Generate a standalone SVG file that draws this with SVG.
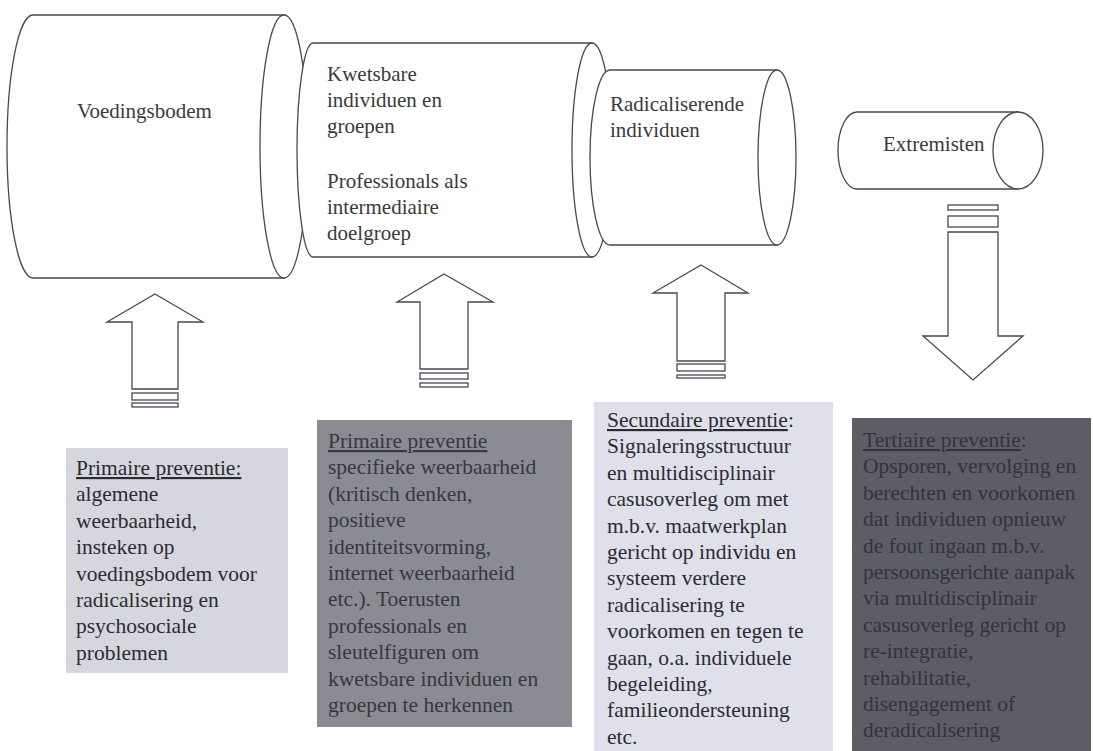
<svg xmlns="http://www.w3.org/2000/svg" width="1093" height="751" viewBox="0 0 1093 751">
<style>
.ln{fill:#fff;stroke:#4a4654;stroke-width:1.3}
.t{font-family:"Liberation Serif","DejaVu Serif",serif;font-size:21px;fill:#3a3a3a}
.b{font-family:"Liberation Serif","DejaVu Serif",serif;font-size:21.5px}
.u{text-decoration:underline}
</style>
<rect width="1093" height="751" fill="#fff"/>
<g id="cyl-voedingsbodem">
<path class="ln" d="M33,15 H284 V278 H33 A26,131.5 0 0 1 33,15 Z"/>
<ellipse class="ln" cx="284" cy="146.5" rx="24" ry="131.5"/>
<text class="t" x="77" y="118" font-family="Liberation Serif, serif">Voedingsbodem</text>
</g>
<g id="cyl-kwetsbare">
<path class="ln" d="M313,43 H592 V257 H313 A16,107 0 0 1 313,43 Z"/>
<ellipse class="ln" cx="592" cy="150" rx="20" ry="107"/>
<text class="t" font-family="Liberation Serif, serif"><tspan x="327" y="81">Kwetsbare</tspan><tspan x="327" y="107">individuen en</tspan><tspan x="327" y="133">groepen</tspan><tspan x="327" y="188">Professionals als</tspan><tspan x="327" y="214">intermediaire</tspan><tspan x="327" y="240">doelgroep</tspan></text>
</g>
<g id="cyl-radicaliserend">
<path class="ln" d="M610,70 H777 V245 H610 A20,87.5 0 0 1 610,70 Z"/>
<ellipse class="ln" cx="777" cy="157.5" rx="19" ry="87.5"/>
<text class="t" font-family="Liberation Serif, serif"><tspan x="610" y="111">Radicaliserende</tspan><tspan x="610" y="137">individuen</tspan></text>
</g>
<g id="cyl-extremisten">
<path class="ln" d="M857,112 H1018 V189 H857 A19,38.5 0 0 1 857,112 Z"/>
<ellipse class="ln" cx="1018" cy="150.5" rx="25" ry="38.5"/>
<text class="t" x="883" y="151" font-family="Liberation Serif, serif">Extremisten</text>
</g>
<g id="connectors">
<g id="arrow-1">
<path class="ln" d="M155,294 L203,322 H178 V389 H132 V322 H107 Z"/>
<rect class="ln" x="132" y="393" width="46" height="7"/>
<rect class="ln" x="132" y="403" width="46" height="4"/>
</g>
<g id="arrow-2">
<path class="ln" d="M444,274 L493,302 H468 V369 H420 V302 H397 Z"/>
<rect class="ln" x="420" y="373" width="48" height="6"/>
<rect class="ln" x="420" y="383" width="48" height="4"/>
</g>
<g id="arrow-3">
<path class="ln" d="M701,265 L748,293 H725 V361 H677 V293 H653 Z"/>
<rect class="ln" x="677" y="364" width="48" height="7"/>
<rect class="ln" x="677" y="375" width="48" height="3"/>
</g>
<g id="arrow-4">
<rect class="ln" x="948" y="205" width="50" height="5"/>
<rect class="ln" x="948" y="216" width="50" height="11"/>
<path class="ln" d="M948,232 H998 V336 H1023 L973,380 L923,336 H948 Z"/>
</g>
</g>
<g id="box-primair-algemeen">
<rect x="66" y="448" width="222" height="225" fill="#d6d6de"/>
<text class="b" fill="#2c2c30" font-family="Liberation Serif, serif"><tspan x="76" y="475" class="u">Primaire preventie:</tspan><tspan x="76" y="501.4">algemene</tspan><tspan x="76" y="527.8">weerbaarheid,</tspan><tspan x="76" y="554.2">insteken op</tspan><tspan x="76" y="580.6">voedingsbodem voor</tspan><tspan x="76" y="607">radicalisering en</tspan><tspan x="76" y="633.4">psychosociale</tspan><tspan x="76" y="659.8">problemen</tspan></text>
</g>
<g id="box-primair-specifiek">
<rect x="317" y="420" width="255" height="307" fill="#8b8b93"/>
<text class="b" fill="#38383e" font-family="Liberation Serif, serif"><tspan x="328" y="448" class="u">Primaire preventie</tspan><tspan x="328" y="474.4">specifieke weerbaarheid</tspan><tspan x="328" y="500.8">(kritisch denken,</tspan><tspan x="328" y="527.2">positieve</tspan><tspan x="328" y="553.6">identiteitsvorming,</tspan><tspan x="328" y="580">internet weerbaarheid</tspan><tspan x="328" y="606.4">etc.). Toerusten</tspan><tspan x="328" y="632.8">professionals en</tspan><tspan x="328" y="659.2">sleutelfiguren om</tspan><tspan x="328" y="685.6">kwetsbare individuen en</tspan><tspan x="328" y="712">groepen te herkennen</tspan></text>
</g>
<g id="box-secundair">
<rect x="594" y="402" width="239" height="349" fill="#e0e0ea"/>
<text class="b" fill="#2c2c30" font-family="Liberation Serif, serif"><tspan x="607" y="427"><tspan class="u">Secundaire preventie</tspan>:</tspan><tspan x="607" y="453.4">Signaleringsstructuur</tspan><tspan x="607" y="479.8">en multidisciplinair</tspan><tspan x="607" y="506.2">casusoverleg om met</tspan><tspan x="607" y="532.6">m.b.v. maatwerkplan</tspan><tspan x="607" y="559">gericht op individu en</tspan><tspan x="607" y="585.4">systeem verdere</tspan><tspan x="607" y="611.8">radicalisering te</tspan><tspan x="607" y="638.2">voorkomen en tegen te</tspan><tspan x="607" y="664.6">gaan, o.a. individuele</tspan><tspan x="607" y="691">begeleiding,</tspan><tspan x="607" y="717.4">familieondersteuning</tspan><tspan x="607" y="743.8">etc.</tspan></text>
</g>
<g id="box-tertiair">
<rect x="852" y="418" width="239" height="333" fill="#5d5d65"/>
<text class="b" fill="#34343a" font-family="Liberation Serif, serif"><tspan x="863" y="447"><tspan class="u">Tertiaire preventie</tspan>:</tspan><tspan x="863" y="473.4">Opsporen, vervolging en</tspan><tspan x="863" y="499.8">berechten en voorkomen</tspan><tspan x="863" y="526.2">dat individuen opnieuw</tspan><tspan x="863" y="552.6">de fout ingaan m.b.v.</tspan><tspan x="863" y="579">persoonsgerichte aanpak</tspan><tspan x="863" y="605.4">via multidisciplinair</tspan><tspan x="863" y="631.8">casusoverleg gericht op</tspan><tspan x="863" y="658.2">re-integratie,</tspan><tspan x="863" y="684.6">rehabilitatie,</tspan><tspan x="863" y="711">disengagement of</tspan><tspan x="863" y="737.4">deradicalisering</tspan></text>
</g>
</svg>
